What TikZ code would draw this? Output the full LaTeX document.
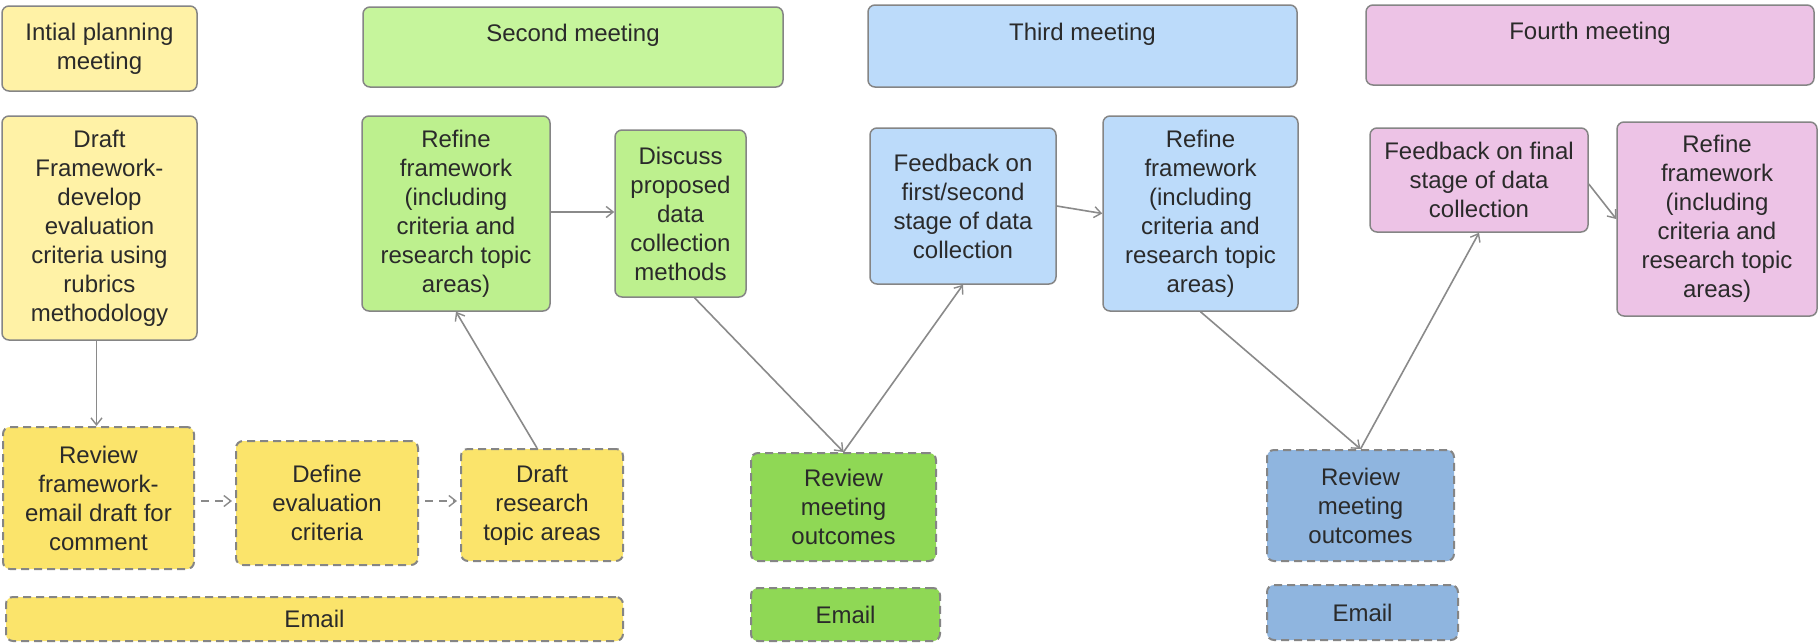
\documentclass[tikz,border=0pt]{standalone}
\usepackage{fontspec}
\setmainfont{Liberation Sans}
\usetikzlibrary{arrows.meta,calc}
\definecolor{bord}{HTML}{858585}
\definecolor{txt}{HTML}{2A2A2A}
\definecolor{yelpale}{HTML}{FFF2A6}
\definecolor{yeldash}{HTML}{FBE46B}
\definecolor{grnhead}{HTML}{C6F59C}
\definecolor{grnbody}{HTML}{BDF08E}
\definecolor{grnrev}{HTML}{8FD855}
\definecolor{blulight}{HTML}{BCDBFA}
\definecolor{blurev}{HTML}{8FB5DF}
\definecolor{pink}{HTML}{EDC3E6}
\definecolor{conn}{HTML}{8A8A8A}
\newcommand{\headtext}[1]{\raisebox{12pt}[\height][\depth]{#1}}
\tikzset{
  box/.style={draw=bord, line width=1.5, rounded corners=7, align=center,
    inner sep=3, font=\fontsize{24}{29}\selectfont, text=txt},
  dbox/.style={box, dash pattern=on 8pt off 5pt, line width=2},
  arr/.style={draw=conn, line width=1.6, -{Straight Barb[length=7pt,width=11pt,line width=1.4pt]}},
  darr/.style={arr, dash pattern=on 8pt off 6pt, shorten <=6pt, shorten >=3pt}
}
\begin{document}
\begin{tikzpicture}[x=1pt,y=-1pt]
\useasboundingbox[fill=white] (0,0) rectangle (1820,643);
% first column
\node[box, fill=yelpale, minimum width=195, minimum height=85] (intial) at (99.5,48.5) {Intial planning\\meeting};
\node[box, fill=yelpale, minimum width=195, minimum height=224] (draftfw) at (99.5,228) {Draft\\Framework-\\develop\\evaluation\\criteria using\\rubrics\\methodology};
\node[dbox, fill=yeldash, minimum width=191, minimum height=142] (reviewfw) at (98.5,498) {Review\\framework-\\email draft for\\comment};
\node[dbox, fill=yeldash, minimum width=182, minimum height=124] (define) at (327,503) {Define\\evaluation\\criteria};
\node[dbox, fill=yeldash, minimum width=162, minimum height=112] (draftrt) at (542,505) {Draft\\research\\topic areas};
\node[dbox, fill=yeldash, minimum width=617, minimum height=44] (emaily) at (314.5,619) {Email};
% second meeting
\node[box, fill=grnhead, minimum width=420, minimum height=80] (second) at (573,47) {\headtext{Second meeting}};
\node[box, fill=grnbody, minimum width=188, minimum height=195] (refineg) at (456,213.5) {Refine\\framework\\(including\\criteria and\\research topic\\areas)};
\node[box, fill=grnbody, minimum width=131, minimum height=167] (discuss) at (680.5,213.5) {Discuss\\proposed\\data\\collection\\methods};
\node[dbox, fill=grnrev, minimum width=185, minimum height=108] (reviewg) at (843.5,507) {Review\\meeting\\outcomes};
\node[dbox, fill=grnrev, minimum width=189, minimum height=53] (emailg) at (845.5,614.5) {Email};
% third meeting
\node[box, fill=blulight, minimum width=429, minimum height=82] (third) at (1082.5,46) {\headtext{Third meeting}};
\node[box, fill=blulight, minimum width=186, minimum height=156] (feedb1) at (963,206) {Feedback on\\first/second\\stage of data\\collection};
\node[box, fill=blulight, minimum width=195, minimum height=195] (refineb) at (1200.5,213.5) {Refine\\framework\\(including\\criteria and\\research topic\\areas)};
\node[dbox, fill=blurev, minimum width=187, minimum height=111] (reviewb) at (1360.5,505.5) {Review\\meeting\\outcomes};
\node[dbox, fill=blurev, minimum width=191, minimum height=55] (emailb) at (1362.5,612.5) {Email};
% fourth meeting
\node[box, fill=pink, minimum width=448, minimum height=80] (fourth) at (1590,45) {\headtext{Fourth meeting}};
\node[box, fill=pink, minimum width=218, minimum height=104] (feedb2) at (1479,180) {Feedback on final\\stage of data\\collection};
\node[box, fill=pink, minimum width=200, minimum height=194] (refinep) at (1717,219) {Refine\\framework\\(including\\criteria and\\research topic\\areas)};
% connectors
\draw[arr] ($(draftfw.south)+(-3,0)$) -- ($(reviewfw.north)+(-2,0)$);
\draw[darr] (reviewfw.east |- 0,501) -- (define.west |- 0,501);
\draw[darr] (define.east |- 0,501) -- (draftrt.west |- 0,501);
\draw[arr] ($(draftrt.north)+(-5,0)$) -- (refineg.south);
\draw[arr] (refineg.east |- 0,212) -- (discuss.west |- 0,212);
\draw[arr] ($(discuss.south)+(14,0)$) -- (reviewg.north);
\draw[arr] (reviewg.north) -- (feedb1.south);
\draw[arr] (feedb1.east) -- (refineb.west);
\draw[arr] (refineb.south) -- (reviewb.north);
\draw[arr] (reviewb.north) -- (feedb2.south);
\draw[arr] ($(feedb2.east)+(0,4)$) -- (refinep.west);
\end{tikzpicture}
\end{document}
